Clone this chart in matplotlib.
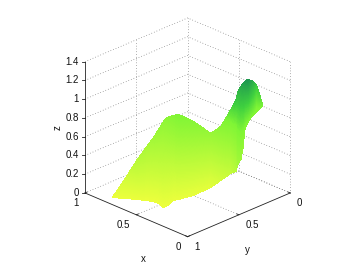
import numpy as np
import matplotlib
matplotlib.use('Agg')
import matplotlib.pyplot as plt
from matplotlib.colors import LinearSegmentedColormap
from mpl_toolkits.mplot3d import proj3d

plt.rcParams['font.family'] = ['Liberation Sans', 'DejaVu Sans']

# surface read column by column: v - u across the view (v = 1 - y), u + v front and back
across = [-.735, -.608, -.49, -.333, -.284, -.235, -.196, -.137, -.088, .059, .225, .324,
          .422, .471, .49, .52, .539, .559, .588, .637, .667, .696, .735]
depth_front = [.853, .83, .786, .74, .715, .623, .648, .743, .766, .834, .954, .857,
               .805, .634, .471, .478, .602, .846, .943, 1.103, 1.237, 1.241, 1.267]
depth_back = [.853, .903, .91, 1.048, 1.103, 1.18, 1.186, 1.124, 1.083, 1.051, 1.034, .979,
              .94, .933, 1.009, .995, .979, .982, .984, 1.195, 1.343, 1.266, 1.267]
z_front = [.02, .02, .03, .03, .02, .02, .03, .04, .04, .05, .08, .2,
           .3, .4, .55, .6, .65, .75, .78, .78, .75, .78, .8]
z_back = [.02, .2, .4, .57, .63, .68, .72, .77, .8, .74, .62, .72,
          .92, 1.03, 1.08, 1.14, 1.18, 1.2, 1.22, 1.1, 1.0, .95, .8]

z_ticks = [0, 0.2, 0.4, 0.6, 0.8, 1, 1.2, 1.4]
z_tick_labels = ['0', '0.2', '0.4', '0.6', '0.8', '1', '1.2', '1.4']
xy_ticks = [0, 0.5, 1]
xy_tick_labels = ['0', '0.5', '1']

cmap = LinearSegmentedColormap.from_list('surf', [
    (0, '#eeff3c'), (0.25, '#c4fb3a'), (0.65, '#80f535'),
    (0.8, '#3fd03f'), (1, '#1e9650')])

fig = plt.figure(figsize=(3.61, 2.67), dpi=100)
side = 244
ax = fig.add_axes([62.3 / 361, 14.4 / 267, side / 361, side / 267], projection='3d')
ax.set_proj_type('ortho')
ax.view_init(elev=25.2, azim=135)
ax.set_box_aspect((1, 1, 1))
ax.set_xlim(0, 1)
ax.set_ylim(0, 1)
ax.set_zlim(0, 1.4)
ax.set_axis_off()
ax.computed_zorder = False

# fine mesh only for smooth shading, like shading interp
col_pos = np.arange(len(across))
col_fine = np.linspace(0, len(across) - 1, 400)
row_fine = np.linspace(0, 1, 60)
a = np.interp(col_fine, col_pos, across)
wf = np.interp(col_fine, col_pos, depth_front)
wb = np.interp(col_fine, col_pos, depth_back)
zf = np.interp(col_fine, col_pos, z_front)
zb = np.interp(col_fine, col_pos, z_back)
W = np.outer(row_fine, wb) + np.outer(1 - row_fine, wf)
Z = np.outer(row_fine, zb) + np.outer(1 - row_fine, zf)
A = np.tile(a, (len(row_fine), 1))
X = (W - A) / 2
Y = 1 - (W + A) / 2

# dotted box and grid
grid = dict(color='#666666', lw=0.5, ls=(0, (1, 3)), zorder=1)
for z in z_ticks:
    ax.plot([1, 1, 0], [1, 0, 0], [z, z, z], **grid)
ax.plot([1, 1], [0, 0], [0, 1.4], **grid)
ax.plot([0, 0], [0, 0], [0, 1.4], **grid)
ax.plot([0.5, 0.5], [0, 0], [0, 1.4], **grid)
ax.plot([1, 1], [0.5, 0.5], [0, 1.4], **grid)
ax.plot([0.5, 0.5, 0], [1, 0, 0], [0, 0, 0], **grid)
ax.plot([1, 0], [0.5, 0.5], [0, 0], **grid)

ax.plot_surface(X, Y, Z, rstride=1, cstride=1, facecolors=cmap(Z / 1.22), shade=False,
                linewidth=0, antialiased=False, zorder=2)

# solid axes
axis = dict(color='#222222', lw=0.6, zorder=3)
ax.plot([1, 1], [1, 1], [0, 1.4], **axis)
ax.plot([1, 0], [1, 1], [0, 0], **axis)
ax.plot([0, 0], [1, 0], [0, 0], **axis)
for z in z_ticks:
    ax.plot([1, 1.015], [1, 1.015], [z, z], **axis)
for t in xy_ticks:
    ax.plot([t, t], [1, 0.98], [0, 0], **axis)
    ax.plot([0, 0.02], [t, t], [0, 0], **axis)

# text goes in as plain 2D text at the projected spot
fig.canvas.draw()
M = ax.get_proj()


def label(x, y, z, s, ha='center', rotation=0):
    px, py, _ = proj3d.proj_transform(x, y, z, M)
    ax.text2D(px, py, s, transform=ax.transData, fontsize=7, color='#111111',
              ha=ha, va='center', rotation=rotation)


for z, s in zip(z_ticks, z_tick_labels):
    label(1.03, 1.03, z, s, ha='right')
for t, s in zip(xy_ticks, xy_tick_labels):
    pad = 0.065 if s == '0.5' else 0.045
    label(t + pad, 1 + pad, -0.11, s)
    label(-pad, t - pad, -0.11, s)

label(0.5, 0.931, -0.5, 'x')
label(-0.078, 0.5, -0.335, 'y')
label(1.13, 1.135, 0.702, 'z', rotation=90)

fig.savefig('out.png', dpi=100)
